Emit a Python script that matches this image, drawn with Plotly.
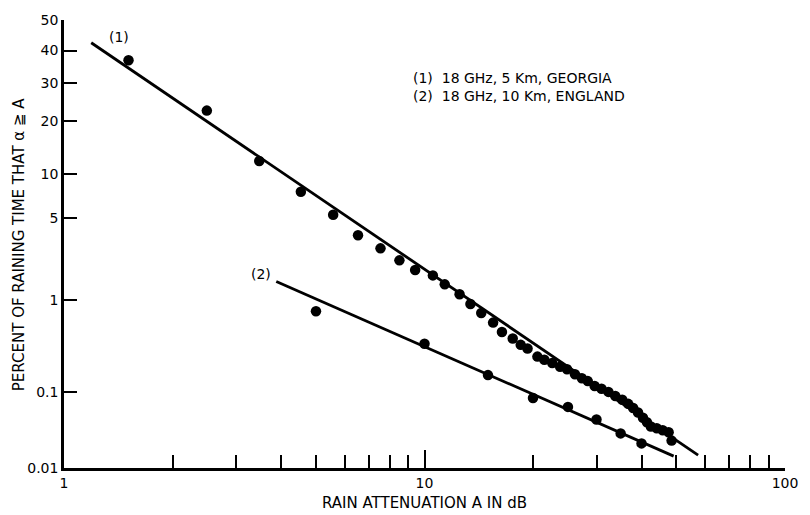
import plotly.graph_objects as go
from statistics import NormalDist

# ---------------- data ----------------
georgia_atten = [1.51, 2.49, 3.48, 4.54, 5.58, 6.54, 7.55, 8.52, 9.42, 10.55,
                 11.38, 12.51, 13.41, 14.37, 15.5, 16.4, 17.57, 18.49, 19.31, 20.57,
                 21.5, 22.61, 23.78, 24.85, 26.14, 27.32, 28.37, 29.65, 30.98, 32.38,
                 33.83, 35.37, 36.73, 37.92, 39.12, 40.36, 41.4, 42.46, 44.09, 45.79,
                 47.56, 48.47]
georgia_pct = [36.9, 22.6, 12.1, 7.7, 5.3, 3.7, 2.9, 2.3, 1.9, 1.7,
               1.41, 1.14, 0.92, 0.75, 0.60, 0.48, 0.41, 0.35, 0.32, 0.26,
               0.24, 0.22, 0.20, 0.187, 0.164, 0.147, 0.136, 0.119, 0.110, 0.101,
               0.090, 0.081, 0.072, 0.064, 0.056, 0.048, 0.042, 0.037, 0.035, 0.033,
               0.031, 0.024]

england_atten = [5, 10, 15, 20, 25, 30, 35, 40]
england_pct = [0.78, 0.36, 0.16, 0.085, 0.066, 0.0455, 0.030, 0.022]

fit1_atten = [1.19, 57.4]
fit1_pct = [42.5, 0.0152]
fit2_atten = [3.88, 49.1]
fit2_pct = [1.50, 0.0147]

y_tick_pct = [50, 40, 30, 20, 10, 5, 1, 0.1, 0.01]
y_tick_text = ["50", "40", "30", "20", "10", "5", "1", "0.1", "0.01"]
x_major = [1, 10, 100]
x_major_text = ["1", "10", "100"]
x_minor = [2, 3, 4, 5, 6, 7, 8, 9, 20, 30, 40, 50, 60, 70, 80, 90]

# normal-probability scale for the percent axis
nd = NormalDist()
def pz(p):
    return nd.inv_cdf(p / 100.0)

FONT = "DejaVu Sans, Verdana, sans-serif"

fig = go.Figure()
fig.add_trace(go.Scatter(x=fit1_atten, y=[pz(v) for v in fit1_pct], mode="lines",
                         line=dict(color="black", width=2.8), hoverinfo="skip"))
fig.add_trace(go.Scatter(x=fit2_atten, y=[pz(v) for v in fit2_pct], mode="lines",
                         line=dict(color="black", width=2.8), hoverinfo="skip"))
fig.add_trace(go.Scatter(x=georgia_atten, y=[pz(v) for v in georgia_pct], mode="markers",
                         marker=dict(color="black", size=10.5), name="(1)"))
fig.add_trace(go.Scatter(x=england_atten, y=[pz(v) for v in england_pct], mode="markers",
                         marker=dict(color="black", size=10.5), name="(2)"))

L, R, T, B = 64, 14, 15, 47
W, H = 810, 515
pw, ph = W - L - R, H - T - B
def px(x):
    return (x - L) / pw
def py(y):
    return 1 - (y - T) / ph

annos = [
    dict(text="(1)", x=px(120), y=py(32), size=14),
    dict(text="(2)", x=px(264), y=py(272), size=14),
    dict(text="(1)\u00a0\u00a018 GHz, 5 Km, GEORGIA", x=px(416), y=py(74), xanchor="left", size=14),
    dict(text="(2)\u00a0\u00a018 GHz, 10 Km, ENGLAND", x=px(416), y=py(92), xanchor="left", size=14),
    dict(text="RAIN ATTENUATION A IN dB", x=px(430), y=py(503), size=15),
    dict(text="PERCENT OF RAINING TIME THAT \u03b1 \u2267 A", x=px(19), y=py(242), textangle=-90, size=15),
]
for a in annos:
    a.setdefault("xanchor", "center")
    s = a.pop("size")
    fig.add_annotation(xref="paper", yref="paper", showarrow=False, yanchor="middle",
                       font=dict(family=FONT, size=s, color="black"), **a)

fig.update_layout(
    width=W, height=H,
    margin=dict(l=L, r=R, t=T, b=B),
    paper_bgcolor="white", plot_bgcolor="white",
    showlegend=False,
    font=dict(family=FONT, size=14, color="black"),
)
fig.update_xaxes(
    type="log", range=[0, 2],
    tickmode="array", tickvals=x_major, ticktext=x_major_text,
    ticks="inside", ticklen=18, tickwidth=2, tickcolor="black",
    minor=dict(tickmode="array", tickvals=x_minor, ticks="inside", ticklen=13,
               tickwidth=2, tickcolor="black", showgrid=False),
    showline=True, linecolor="black", linewidth=2.5,
    showgrid=False, zeroline=False,
    tickfont=dict(family=FONT, size=14, color="black"),
)
fig.update_yaxes(
    range=[pz(0.01), pz(50)],
    tickmode="array", tickvals=[pz(v) for v in y_tick_pct], ticktext=y_tick_text,
    ticks="inside", ticklen=13, tickwidth=2, tickcolor="black",
    showline=True, linecolor="black", linewidth=2.5,
    showgrid=False, zeroline=False,
    tickfont=dict(family=FONT, size=14, color="black"),
)

fig.write_html("out.html")
